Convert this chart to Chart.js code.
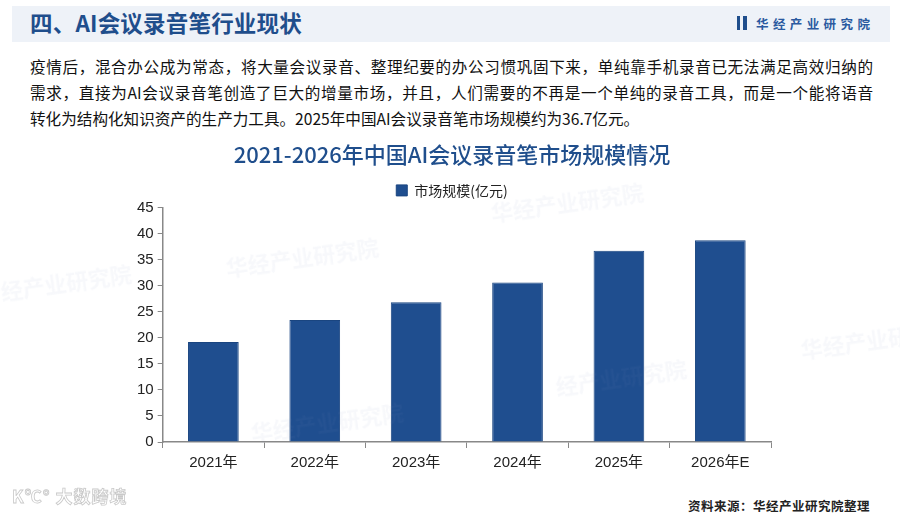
<!DOCTYPE html>
<html><head><meta charset="utf-8">
<script src="https://cdn.jsdelivr.net/npm/chart.js@4.4.1/dist/chart.umd.min.js"></script>
<style>
html,body{margin:0;padding:0;background:#fff;}
body{width:900px;height:519px;position:relative;overflow:hidden;font-family:"Noto Sans CJK SC","Noto Sans",sans-serif;}
#band{position:absolute;left:12px;top:6px;width:878px;height:36px;background:#eef2f8;}
#h1{position:absolute;left:30px;top:4px;font-size:22.5px;font-weight:700;color:#1f4e8c;line-height:36px;letter-spacing:0.2px;white-space:nowrap;}
#logo{position:absolute;left:737px;top:13px;height:20px;display:flex;align-items:center;color:#2b5aa0;font-size:12.5px;font-weight:700;letter-spacing:4.4px;white-space:nowrap;}
#logo .ic{width:10px;height:14px;margin-right:9px;background:linear-gradient(90deg,#1f4e8c 0 35%,transparent 35% 60%,#1f4e8c 60%);}
#body{position:absolute;left:30px;top:53px;width:843px;font-size:15.6px;line-height:26px;color:#111;}
#body div{white-space:nowrap;}
#body .j{text-align:justify;text-align-last:justify;white-space:normal;}
#wrap{position:absolute;left:0;top:135px;width:900px;height:350px;}
#src{position:absolute;left:688px;top:496px;font-size:12.5px;font-weight:700;color:#222;letter-spacing:0.5px;white-space:nowrap;}
#wm{position:absolute;left:12px;top:483px;font-size:17px;color:#fff;font-weight:700;-webkit-text-stroke:0.8px #c9c9c9;letter-spacing:1px;white-space:nowrap;}
.w{position:absolute;font-size:22px;color:rgba(120,140,180,0.06);font-weight:700;transform:rotate(-8deg);pointer-events:none;white-space:nowrap;}
</style></head>
<body>
<div id="band"></div>
<div id="h1">四、AI会议录音笔行业现状</div>
<div id="logo"><span class="ic"></span>华经产业研究院</div>
<div id="body">
<div class="j">疫情后，混合办公成为常态，将大量会议录音、整理纪要的办公习惯巩固下来，单纯靠手机录音已无法满足高效归纳的</div>
<div class="j">需求，直接为AI会议录音笔创造了巨大的增量市场，并且，人们需要的不再是一个单纯的录音工具，而是一个能将语音</div>
<div>转化为结构化知识资产的生产力工具。2025年中国AI会议录音笔市场规模约为36.7亿元。</div>
</div>
<div id="wrap"><canvas id="c"></canvas></div>
<div class="w" style="left:225px;top:240px;">华经产业研究院</div>
<div class="w" style="left:0px;top:265px;">经产业研究院</div>
<div class="w" style="left:490px;top:185px;">华经产业研究院</div>
<div class="w" style="left:250px;top:405px;">华经产业研究院</div>
<div class="w" style="left:555px;top:360px;">经产业研究院</div>
<div class="w" style="left:800px;top:325px;">华经产业研</div>
<div id="wm">K℃° 大数跨境</div>
<div id="src">资料来源：华经产业研究院整理</div>
<script>
const categories = ["2021年","2022年","2023年","2024年","2025年","2026年E"];
const marketSize = [19.2, 23.4, 26.8, 30.6, 36.7, 38.7];
const seriesName = "市场规模(亿元)";
const chartTitle = "2021-2026年中国AI会议录音笔市场规模情况";
const yTicks = { min: 0, max: 45, step: 5 };

Chart.defaults.font.family = '"Liberation Sans","Noto Sans CJK SC",sans-serif';
Chart.defaults.color = "#222";
new Chart(document.getElementById("c"), {
  type: "bar",
  data: {
    labels: categories,
    datasets: [{
      label: seriesName,
      data: marketSize,
      backgroundColor: "#1f4e8f",
      borderColor: "#1a4580",
      borderWidth: 1,
      categoryPercentage: 1,
      barPercentage: 0.5
    }]
  },
  options: {
    responsive: true,
    maintainAspectRatio: false,
    animation: false,
    layout: { padding: { left: 133, right: 129, top: 6, bottom: 7 } },
    plugins: {
      title: { display: true, text: chartTitle, color: "#1f4e8c", font: { family: '"Noto Sans CJK SC",sans-serif', size: 22, weight: "500" }, padding: { top: 0, bottom: 12 } },
      legend: { display: true, labels: { boxWidth: 11, boxHeight: 11, padding: 4, font: { family: '"Noto Sans CJK SC",sans-serif', size: 14 }, color: "#222" } },
      tooltip: { enabled: false }
    },
    scales: {
      x: {
        grid: { display: true, drawOnChartArea: false, drawTicks: true, tickLength: 6, color: "#888" },
        border: { display: true, color: "#888", width: 1.5 },
        ticks: { font: { size: 15 }, color: "#222", padding: 6 }
      },
      y: {
        min: yTicks.min, max: yTicks.max,
        grid: { display: true, drawOnChartArea: false, drawTicks: true, tickLength: 5, color: "#888" },
        border: { display: true, color: "#888", width: 1.5 },
        ticks: { stepSize: yTicks.step, font: { size: 15 }, color: "#222", padding: 4 }
      }
    }
  }
});
</script>
</body></html>
